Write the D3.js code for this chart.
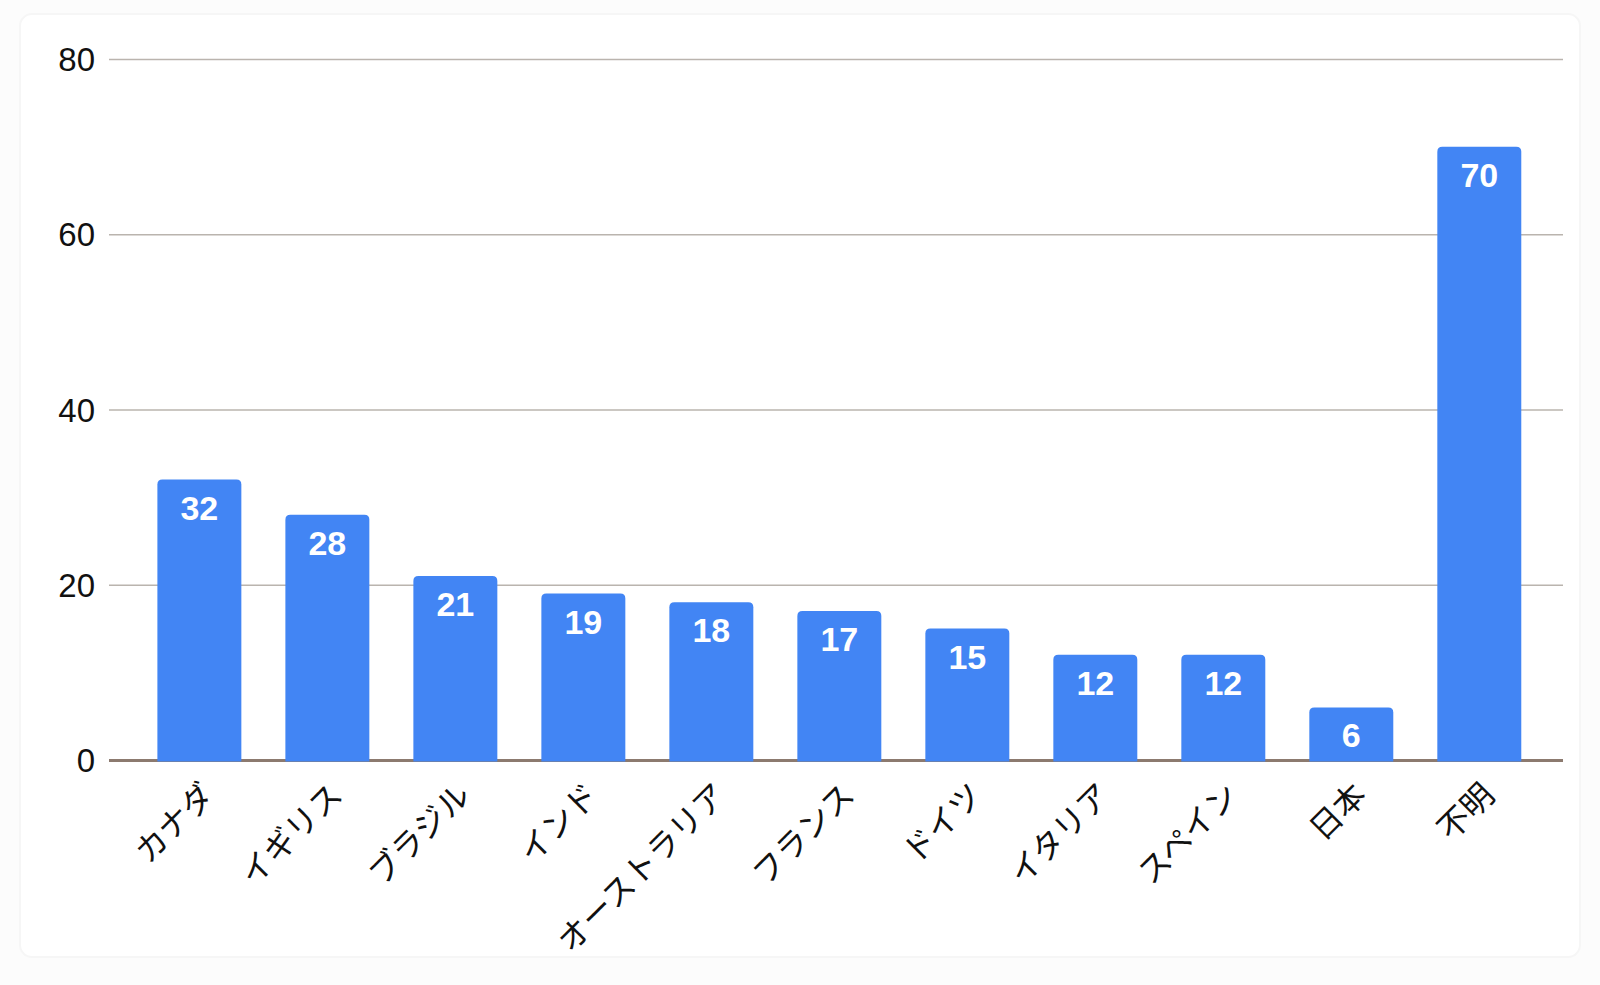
<!DOCTYPE html>
<html>
<head>
<meta charset="utf-8">
<script src="https://cdn.jsdelivr.net/npm/d3@7"></script>
<style>
  html, body { margin: 0; padding: 0; background: #ffffff; }
  svg { display: block; }
</style>
</head>
<body>
<svg id="chart" width="1600" height="985"></svg>
<script>
const categories = ["カナダ", "イギリス", "ブラジル", "インド", "オーストラリア", "フランス", "ドイツ", "イタリア", "スペイン", "日本", "不明"];
const values = [32, 28, 21, 19, 18, 17, 15, 12, 12, 6, 70];
const yTicks = [0, 20, 40, 60, 80];

(function () {
const W = 1600, H = 985;
const mLeft = 109, mRight = 1563, mTop = 59, mBottom = 760;

const svg = d3.select("#chart");

svg.append("rect").attr("x", 0).attr("y", 0).attr("width", W).attr("height", H).attr("fill", "#fcfcfc");
svg.append("rect").attr("x", 20).attr("y", 14).attr("width", W - 40).attr("height", H - 42)
  .attr("rx", 12).attr("fill", "#ffffff").attr("stroke", "#f6f6f6").attr("stroke-width", 2);

const x = d3.scaleBand().domain(categories).range([mLeft, mRight])
  .paddingInner(0.344).paddingOuter(0.352).align(0.537);
const y = d3.scaleLinear().domain([0, 80]).range([mBottom, mTop]);

// Y axis with gridlines
const yAxis = svg.append("g")
  .attr("transform", `translate(${mLeft},0)`)
  .call(d3.axisLeft(y).tickValues(yTicks).tickSize(-(mRight - mLeft)).tickPadding(14).tickFormat(d3.format("d")));
yAxis.select(".domain").remove();
yAxis.selectAll(".tick line")
  .attr("stroke", d => d === 0 ? "#8c7a6f" : "#bab4ae")
  .attr("stroke-width", d => d === 0 ? 3 : 1.4);
yAxis.selectAll(".tick text")
  .attr("fill", "#111")
  .style("font-family", "'Liberation Sans', Arial, sans-serif")
  .style("font-size", "33px")
  .attr("dy", "0.35em");

// Bars with rounded top corners
const r = 5;
function barPath(d, i) {
  const x0 = x(categories[i]), w = x.bandwidth();
  const yt = y(d), yb = y(0) + 1.5;
  return `M${x0},${yb} L${x0},${yt + r} Q${x0},${yt} ${x0 + r},${yt} L${x0 + w - r},${yt} Q${x0 + w},${yt} ${x0 + w},${yt + r} L${x0 + w},${yb} Z`;
}
svg.append("g").selectAll("path").data(values).join("path")
  .attr("d", (d, i) => barPath(d, i))
  .attr("fill", "#4285f4");

// Value labels
svg.append("g").selectAll("text").data(values).join("text")
  .attr("x", (d, i) => x(categories[i]) + x.bandwidth() / 2)
  .attr("y", d => y(d) + 40)
  .attr("text-anchor", "middle")
  .attr("fill", "#ffffff")
  .style("font-family", "'Liberation Sans', Arial, sans-serif")
  .style("font-weight", "bold")
  .style("font-size", "34px")
  .text(d => d);

// X axis labels
const xAxis = svg.append("g")
  .attr("transform", `translate(0,${mBottom})`)
  .call(d3.axisBottom(x).tickSize(0).tickPadding(0));
xAxis.select(".domain").remove();
xAxis.selectAll(".tick text")
  .attr("x", 0).attr("y", 0).attr("dy", 0)
  .attr("transform", "translate(17,37) rotate(-45)")
  .attr("text-anchor", "end")
  .attr("fill", "#111")
  .style("font-family", "'Noto Sans CJK JP', sans-serif")
  .style("font-size", "32px");
})();
</script>
</body>
</html>
